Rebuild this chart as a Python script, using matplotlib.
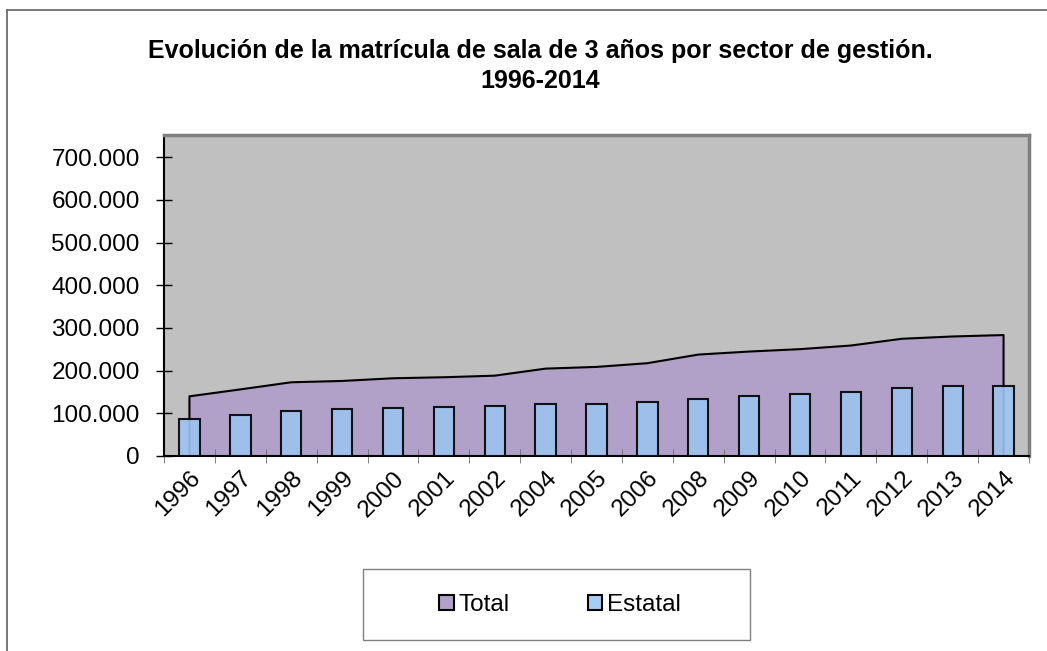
import matplotlib.pyplot as plt
import numpy as np
from matplotlib.patches import Rectangle, Patch
from matplotlib.lines import Line2D
from matplotlib.ticker import FuncFormatter

plt.rcParams['font.family'] = ['Liberation Sans', 'DejaVu Sans']

years = ['1996', '1997', '1998', '1999', '2000', '2001', '2002', '2004', '2005',
         '2006', '2008', '2009', '2010', '2011', '2012', '2013', '2014']
total = [139800, 156000, 172700, 175800, 182100, 184500, 188200, 204700, 208700,
         217400, 237600, 244700, 250300, 258800, 274600, 280000, 283300]
estatal = [85700, 95800, 105900, 109900, 113000, 114600, 116200, 121600, 122400,
           127100, 134100, 139700, 145900, 150600, 160000, 163300, 164700]

W, H = 1047, 651
fig = plt.figure(figsize=(W / 100, H / 100), dpi=100)
ax = fig.add_axes([164 / W, 1 - 456 / H, (1029 - 164) / W, (456 - 135) / H])
ax.set_facecolor('#c0c0c0')

x = np.arange(len(years))
ax.fill_between(x, total, 0, color='#b1a0c7', zorder=1, linewidth=0)
ax.plot(np.concatenate([[x[0]], x, [x[-1]]]), [0] + total + [0],
        color='black', lw=1.5, zorder=2)
ax.bar(x, estatal, width=0.4, color='#9dc3f0', edgecolor='black', lw=1.5,
       alpha=0.9, zorder=3)

ax.set_xlim(-0.5, len(years) - 0.5)
ax.set_ylim(0, 752000)
ax.set_yticks(np.arange(0, 700001, 100000))
ax.yaxis.set_major_formatter(FuncFormatter(lambda v, p: f'{int(v):,}'.replace(',', '.')))
ax.tick_params(axis='y', direction='inout', length=11, width=1, labelsize=17.5, pad=12)

ax.set_xticks(x)
ax.set_xticklabels(years, rotation=45, ha='right', rotation_mode='anchor', fontsize=17.5)
ax.tick_params(axis='x', length=0, pad=8)
ax.set_xticks(np.arange(-0.5, len(years), 1), minor=True)
ax.tick_params(axis='x', which='minor', direction='inout', length=10, color='#707070')

for s in ['left', 'bottom']:
    ax.spines[s].set_color('black')
    ax.spines[s].set_linewidth(1.5)
for s in ['top', 'right']:
    ax.spines[s].set_color('#808080')
    ax.spines[s].set_linewidth(2.5)

fig.text(540 / W, 1 - 51 / H, 'Evolución de la matrícula de sala de 3 años por sector de gestión.',
         ha='center', va='center', fontsize=18, fontweight='bold')
fig.text(540 / W, 1 - 81 / H, '1996-2014', ha='center', va='center',
         fontsize=18, fontweight='bold')

# marco exterior
fig.add_artist(Line2D([7 / W, 7 / W], [0, 1 - 10 / H], color='#606060', lw=1.2))
fig.add_artist(Line2D([7 / W, 1], [1 - 10 / H, 1 - 10 / H], color='#606060', lw=1.2))

# leyenda
fig.add_artist(Rectangle((363 / W, 1 - 640 / H), (750 - 363) / W, (640 - 569) / H,
                         transform=fig.transFigure, facecolor='white',
                         edgecolor='#808080', lw=1))
handles = [Patch(facecolor='#b1a0c7', edgecolor='black', lw=1.5),
           Patch(facecolor='#a6cdf5', edgecolor='black', lw=1.5)]
fig.legend(handles, ['Total', 'Estatal'], loc='center', ncol=2,
           bbox_to_anchor=(560 / W, 1 - 605 / H), frameon=False, fontsize=17.5,
           handlelength=0.6, handleheight=0.6, handletextpad=0.2, columnspacing=3.2)

fig.savefig('out.png', dpi=100)
